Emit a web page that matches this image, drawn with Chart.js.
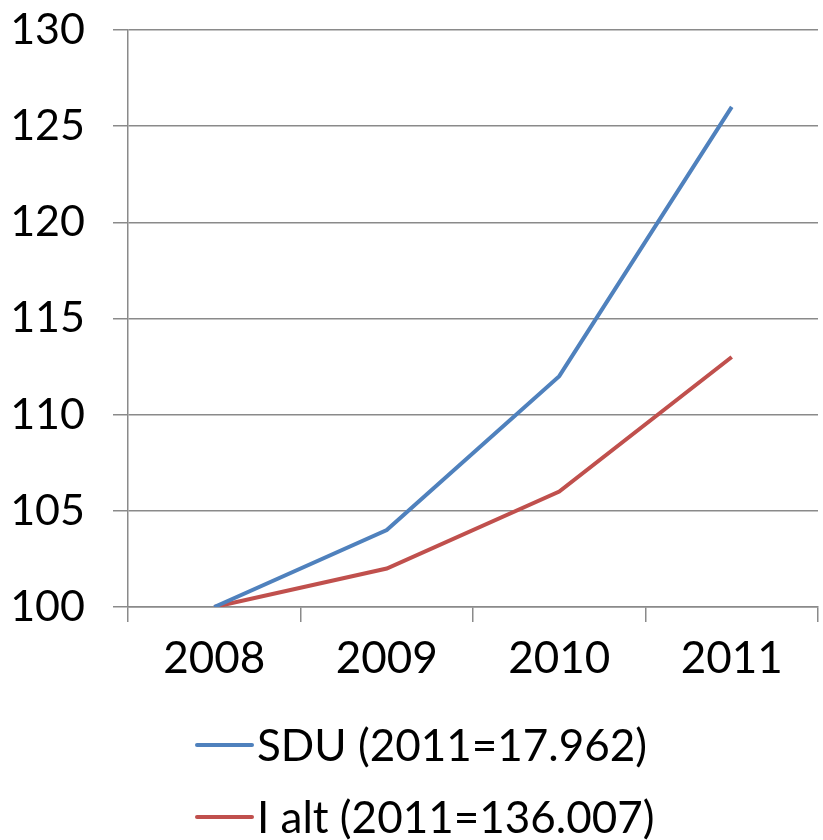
<!DOCTYPE html>
<html><head><meta charset="utf-8">
<script src="https://cdn.jsdelivr.net/npm/chart.js@4/dist/chart.umd.min.js"></script>
<style>html,body{margin:0;padding:0;background:#fff}#wrap{width:823px;height:840px}</style>
</head><body><div id="wrap"><canvas id="c" width="823" height="840"></canvas></div>
<script>
const categories = ["2008", "2009", "2010", "2011"];
const sduValues = [100, 104, 112, 126];
const altValues = [100, 102, 106, 113];
const seriesLabels = ["SDU (2011=17.962)", "I alt (2011=136.007)"];
const yTicks = [100, 105, 110, 115, 120, 125, 130];

const FONT = "Lato, 'Open Sans', sans-serif";
const gridColor = "#8a8a8a";

const legendPlugin = {
  id: "customLegend",
  afterDraw(chart) {
    const ctx = chart.ctx;
    ctx.save();
    ctx.font = "44px " + FONT;
    ctx.textBaseline = "middle";
    ctx.textAlign = "left";
    const startX = 197, lineLen = 55, gap = 5;
    const rows = [745, 817];
    chart.data.datasets.forEach((ds, i) => {
      const y = rows[i];
      ctx.strokeStyle = ds.borderColor;
      ctx.lineWidth = 4;
      ctx.lineCap = "round";
      ctx.beginPath();
      ctx.moveTo(startX, y);
      ctx.lineTo(startX + lineLen, y);
      ctx.stroke();
      ctx.fillStyle = "#000";
      ctx.fillText(ds.label, startX + lineLen + gap, y + 2);
    });
    ctx.restore();
  }
};

new Chart(document.getElementById("c"), {
  type: "line",
  data: {
    labels: categories,
    datasets: [
      { label: seriesLabels[0], data: sduValues, borderColor: "#4F81BD", backgroundColor: "#4F81BD", borderWidth: 4, pointRadius: 0, tension: 0 },
      { label: seriesLabels[1], data: altValues, borderColor: "#C0504D", backgroundColor: "#C0504D", borderWidth: 4, pointRadius: 0, tension: 0 }
    ]
  },
  options: {
    responsive: false,
    animation: false,
    layout: { padding: { top: 30, right: 5, bottom: 140, left: 0 } },
    plugins: { legend: { display: false }, tooltip: { enabled: false } },
    scales: {
      x: {
        offset: true,
        grid: { offset: true, drawOnChartArea: false, drawTicks: true, tickLength: 15, color: gridColor, lineWidth: 1.5 },
        border: { display: true, color: gridColor, width: 1.5 },
        ticks: { font: { family: FONT, size: 44 }, color: "#000", padding: 10, maxRotation: 0 },
        afterFit(s) { s.height = 93; s.paddingLeft = 0; s.paddingRight = 0; }
      },
      y: {
        min: 100, max: 130,
        afterBuildTicks(s) { s.ticks = yTicks.map(v => ({ value: v })); },
        grid: { color: gridColor, lineWidth: 1.5, tickLength: 15 },
        border: { display: true, color: gridColor, width: 1.5 },
        ticks: { font: { family: FONT, size: 43 }, color: "#000", padding: 28 },
        afterFit(s) { s.width = 128; s.paddingTop = 0; s.paddingBottom = 0; }
      }
    }
  },
  plugins: [legendPlugin]
});
</script></body></html>
